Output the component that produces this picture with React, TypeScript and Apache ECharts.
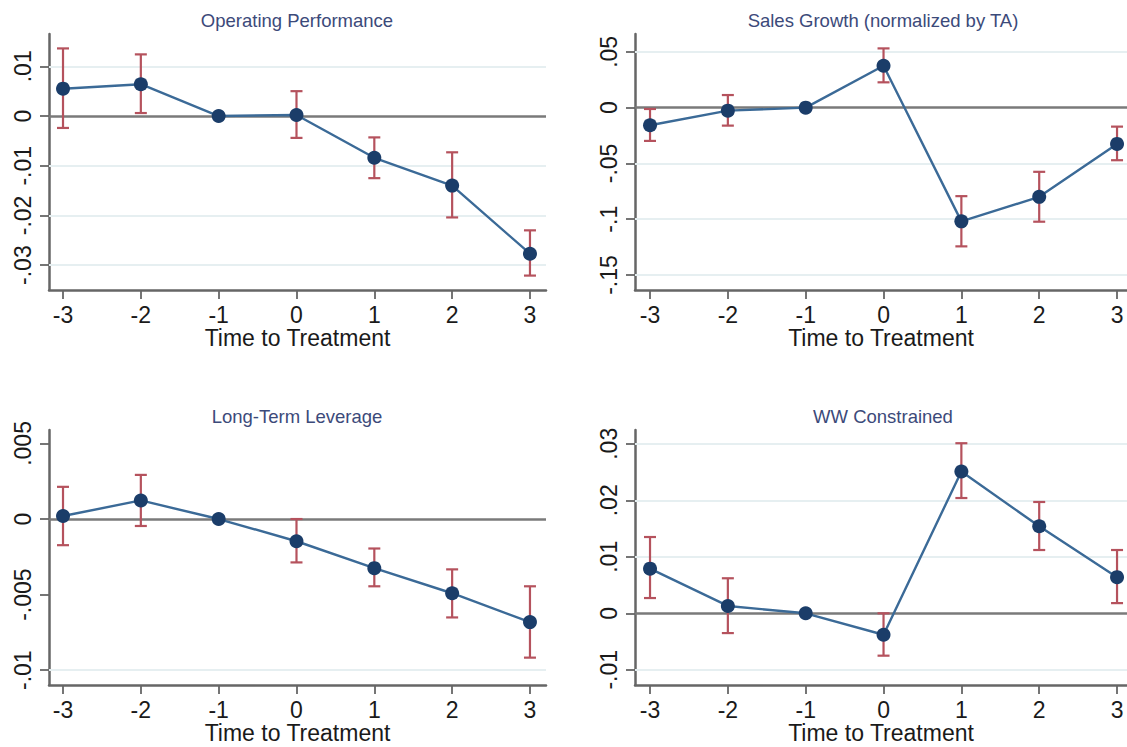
import React, { useEffect, useRef } from "react";
import * as echarts from "echarts";

const periods = [-3, -2, -1, 0, 1, 2, 3];

const panelTitles = [
  "Operating Performance",
  "Sales Growth (normalized by TA)",
  "Long-Term Leverage",
  "WW Constrained",
];
const xAxisName = "Time to Treatment";

const opCoef = [0.0055, 0.0064, 0, 0.0002, -0.0084, -0.014, -0.0277];
const opLo = [-0.0024, 0.0006, 0, -0.0044, -0.0125, -0.0204, -0.0321];
const opHi = [0.0136, 0.0124, 0, 0.005, -0.0043, -0.0073, -0.023];

const salesCoef = [-0.0158, -0.0027, 0, 0.0376, -0.1019, -0.0799, -0.0325];
const salesLo = [-0.0298, -0.0161, 0, 0.0227, -0.1243, -0.1022, -0.0471];
const salesHi = [-0.0012, 0.0113, 0, 0.0531, -0.0793, -0.0575, -0.017];

const levCoef = [0.0002, 0.00123, 0, -0.00147, -0.00325, -0.00491, -0.00682];
const levLo = [-0.00173, -0.00046, 0, -0.00287, -0.00445, -0.00651, -0.00917];
const levHi = [0.00213, 0.00292, 0, 0, -0.00195, -0.00333, -0.00445];

const wwCoef = [0.0079, 0.0013, 0, -0.0038, 0.0251, 0.0154, 0.0064];
const wwLo = [0.0027, -0.0035, 0, -0.0075, 0.0204, 0.0112, 0.0018];
const wwHi = [0.0135, 0.0062, 0, 0, 0.0301, 0.0197, 0.0112];

const yTicksOp = [-0.03, -0.02, -0.01, 0, 0.01];
const yTicksSales = [-0.15, -0.1, -0.05, 0, 0.05];
const yTicksLev = [-0.01, -0.005, 0, 0.005];
const yTicksWw = [-0.01, 0, 0.01, 0.02, 0.03];

const FONT = "'Liberation Sans', Arial, Helvetica, sans-serif";
const LINE_COLOR = "#3b6a97";
const MARKER_COLOR = "#1b3d69";
const ERR_COLOR = "#b5525d";
const AXIS_COLOR = "#666666";
const GRID_COLOR = "#e6eff1";
const ZERO_COLOR = "#7a7a7a";
const TITLE_COLOR = "#3c4a7a";
const TEXT_COLOR = "#1a1a1a";

const fmt = (v: number) => (v === 0 ? "0" : String(v).replace("0.", "."));

const panels = [
  { coef: opCoef, lo: opLo, hi: opHi, ticks: yTicksOp, yMin: -0.035, yMax: 0.0165, xMin: -3.18, xMax: 3.206,
    grid: { left: 49, top: 34, width: 497, height: 256 }, tx: 297, ty: 20 },
  { coef: salesCoef, lo: salesLo, hi: salesHi, ticks: yTicksSales, yMin: -0.1634, yMax: 0.066, xMin: -3.193, xMax: 3.128,
    grid: { left: 635, top: 34, width: 492, height: 256 }, tx: 883, ty: 20 },
  { coef: levCoef, lo: levLo, hi: levHi, ticks: yTicksLev, yMin: -0.01098, yMax: 0.00589, xMin: -3.18, xMax: 3.206,
    grid: { left: 49, top: 430, width: 497, height: 255 }, tx: 297, ty: 416 },
  { coef: wwCoef, lo: wwLo, hi: wwHi, ticks: yTicksWw, yMin: -0.01269, yMax: 0.03244, xMin: -3.193, xMax: 3.128,
    grid: { left: 635, top: 430, width: 492, height: 255 }, tx: 883, ty: 416 },
];

export default function App() {
  const ref = useRef<HTMLDivElement>(null);
  useEffect(() => {
    if (!ref.current) return;
    const chart = echarts.init(ref.current, null, { renderer: "svg" });

    const grids: any[] = [];
    const xAxes: any[] = [];
    const yAxes: any[] = [];
    const series: any[] = [];
    const graphics: any[] = [];

    panels.forEach((p, i) => {
      grids.push({ ...p.grid, containLabel: false });
      xAxes.push({
        gridIndex: i,
        type: "value",
        min: p.xMin,
        max: p.xMax,
        name: xAxisName,
        nameLocation: "middle",
        nameGap: 35,
        nameTextStyle: { fontFamily: FONT, fontSize: 23, color: TEXT_COLOR },
        axisLine: { onZero: false, lineStyle: { color: AXIS_COLOR, width: 2.5 } },
        axisTick: { customValues: periods, length: 9, lineStyle: { color: AXIS_COLOR, width: 1.8 } },
        axisLabel: {
          customValues: periods,
          margin: 13,
          fontFamily: FONT,
          fontSize: 23,
          color: TEXT_COLOR,
          formatter: (v: number) => String(v),
        },
        splitLine: { show: false },
      });
      yAxes.push({
        gridIndex: i,
        type: "value",
        min: p.yMin,
        max: p.yMax,
        axisLine: { show: true, onZero: false, lineStyle: { color: AXIS_COLOR, width: 2.5 } },
        axisTick: { show: true, customValues: p.ticks, length: 9, lineStyle: { color: AXIS_COLOR, width: 1.8 } },
        axisLabel: {
          customValues: p.ticks,
          rotate: 90,
          margin: 15,
          fontFamily: FONT,
          fontSize: 23,
          color: TEXT_COLOR,
          formatter: (v: number) => fmt(v),
        },
        splitLine: { show: false },
      });

      const gridLines: any[] = p.ticks
        .filter((v) => v !== 0)
        .map((v) => ({ yAxis: v, lineStyle: { color: GRID_COLOR, width: 2, type: "solid" } }));
      gridLines.push({ yAxis: 0, lineStyle: { color: ZERO_COLOR, width: 2.5, type: "solid" } });

      const errData = periods
        .map((x, k) => [x, p.lo[k], p.hi[k]])
        .filter((d) => d[1] !== d[2]);

      series.push({
        type: "custom",
        xAxisIndex: i,
        yAxisIndex: i,
        z: 2,
        silent: true,
        encode: { x: 0, y: [1, 2] },
        data: errData,
        renderItem: (_params: any, api: any) => {
          const x = api.value(0);
          const pLo = api.coord([x, api.value(1)]);
          const pHi = api.coord([x, api.value(2)]);
          const w = 6;
          const style = { stroke: ERR_COLOR, lineWidth: 2.2, fill: "none" };
          return {
            type: "group",
            children: [
              { type: "line", shape: { x1: pLo[0], y1: pLo[1], x2: pHi[0], y2: pHi[1] }, style },
              { type: "line", shape: { x1: pLo[0] - w, y1: pLo[1], x2: pLo[0] + w, y2: pLo[1] }, style },
              { type: "line", shape: { x1: pHi[0] - w, y1: pHi[1], x2: pHi[0] + w, y2: pHi[1] }, style },
            ],
          };
        },
        markLine: {
          silent: true,
          symbol: ["none", "none"],
          label: { show: false },
          z: 1,
          data: gridLines,
        },
      });

      series.push({
        type: "line",
        xAxisIndex: i,
        yAxisIndex: i,
        z: 3,
        data: periods.map((x, k) => [x, p.coef[k]]),
        symbol: "circle",
        symbolSize: 14,
        itemStyle: { color: MARKER_COLOR },
        lineStyle: { color: LINE_COLOR, width: 2.4 },
      });

      graphics.push({
        type: "text",
        x: p.tx,
        y: p.ty,
        style: {
          text: panelTitles[i],
          fill: TITLE_COLOR,
          font: `18.5px ${FONT}`,
          textAlign: "center",
          textVerticalAlign: "middle",
        },
      });
    });

    chart.setOption({
      animation: false,
      backgroundColor: "#ffffff",
      grid: grids,
      xAxis: xAxes,
      yAxis: yAxes,
      series,
      graphic: graphics,
    });
    return () => chart.dispose();
  }, []);

  return (
    <div
      ref={ref}
      style={{ position: "absolute", left: 0, top: 0, width: 1127, height: 747 }}
    />
  );
}
